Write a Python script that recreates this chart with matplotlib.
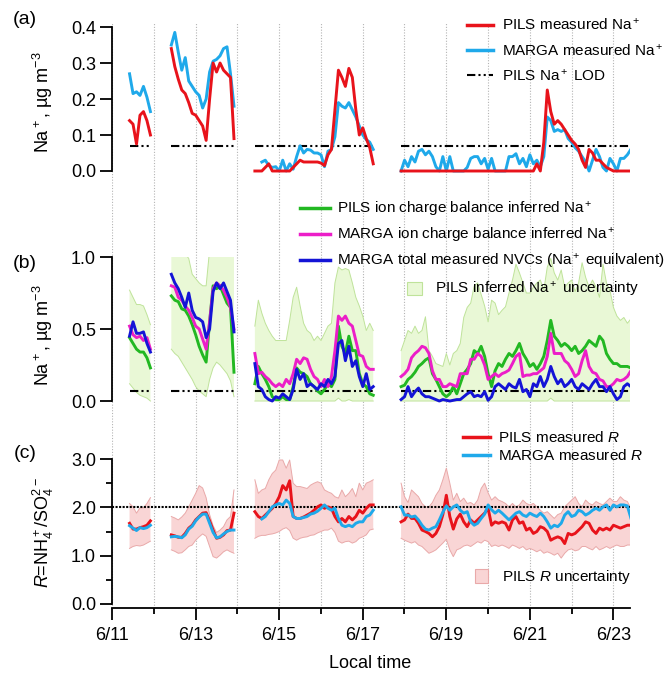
import numpy as np
import matplotlib
matplotlib.use("Agg")
import matplotlib.pyplot as plt
from matplotlib.lines import Line2D
from matplotlib.patches import Patch

plt.rcParams['font.family'] = ['Liberation Sans', 'DejaVu Sans']
plt.rcParams['mathtext.fontset'] = 'custom'
plt.rcParams['mathtext.rm'] = 'Liberation Sans'
plt.rcParams['mathtext.it'] = 'Liberation Sans:italic'
plt.rcParams['mathtext.bf'] = 'Liberation Sans:bold'

# sampling segments (day of June, 2-hourly points)
seg_start = [11.42, 12.42, 14.42, 17.92]
seg_len = [7, 19, 35, 67]
nan = np.nan

# (a) measured Na+
pils_na = ([0.14, 0.13, 0.075, 0.155, 0.165, 0.14, 0.10] +
           [0.34, 0.29, 0.255, 0.225, 0.215, 0.19, 0.16, 0.155, 0.14, 0.125, 0.085, 0.20, 0.30, 0.275, 0.30,
            0.28, 0.27, 0.26, 0.09] +
           [0, 0, 0, 0.01, 0.02, 0, 0, 0, 0, 0, 0, 0.01, 0.02, 0.03, 0.025, 0.025, 0.025, 0.025, 0.025, 0.022,
            0.015, 0.045, 0.06, 0.17, 0.28, 0.26, 0.235, 0.285, 0.26, 0.17, 0.10, 0.12, 0.09, 0.065, 0.02] +
           [0, 0, 0, 0, 0, 0, 0, 0, 0, 0, 0, 0, 0, 0, 0, 0, 0, 0, 0, 0, 0, 0, 0, 0, 0, 0, 0, 0, 0, 0,
            0, 0, 0, 0, 0, 0, 0, 0, 0, 0.02, 0.0, 0.08, 0.225, 0.165, 0.13, 0.14, 0.13, 0.115, 0.10, 0.085,
            0.075, 0.06, 0.03, 0.01, 0.06, 0.05, 0.03, 0.03, 0.02, 0.01, 0.005, 0, 0, 0, 0, 0, 0])
marga_na = ([0.27, 0.215, 0.22, 0.21, 0.235, 0.205, 0.165] +
            [0.35, 0.385, 0.33, 0.28, 0.315, 0.25, 0.235, 0.22, 0.21, 0.175, 0.20, 0.275, 0.305, 0.31, 0.32,
             0.34, 0.345, 0.27, 0.18] +
            [0.08, nan, 0.025, 0.03, 0.015, 0.01, 0.012, 0.0, 0.03, 0.0, 0.02, 0.005, 0.04, 0.07, 0.05, 0.06,
             0.058, 0.05, 0.05, 0.045, 0.012, 0.055, 0.06, 0.095, 0.19, 0.18, 0.175, 0.19, 0.17, 0.15, 0.125,
             0.10, 0.087, 0.08, 0.06] +
            [0.0, 0.03, 0.012, 0.04, 0.025, 0.055, 0.06, 0.045, 0.055, 0.04, 0.012, 0.0, 0.04, 0.0, 0.04, 0.0,
             0.0, 0.0, 0.0, 0.01, 0.035, 0.04, 0.04, 0.02, 0.035, 0.005, 0.035, 0.0, 0.0, 0.0, 0.0, 0.04, 0.04,
             0.048, 0.02, 0.035, 0.012, 0.045, 0.02, 0.03, 0.012, 0.04, 0.15, 0.14, 0.11, 0.115, 0.11, 0.115,
             0.09, 0.08, 0.065, 0.055, 0.04, 0.025, 0.0, 0.03, 0.06, 0.04, 0.01, 0.0, 0.035, 0.02, 0.0, 0.035,
             0.035, 0.045, 0.06])
na_lod = 0.07

# (b) inferred Na+
pils_inf = ([0.44, 0.40, 0.36, 0.34, 0.34, 0.30, 0.23] +
            [0.73, 0.70, 0.69, 0.64, 0.63, 0.59, 0.53, 0.46, 0.38, 0.32, 0.27, 0.55, 0.80, 0.78, 0.80, 0.74,
             0.68, 0.65, 0.20] +
            [0.12, 0.24, 0.19, 0.15, 0.10, 0.03, 0.01, 0.01, 0.03, 0.01, 0.01, 0.10, 0.23, 0.20, 0.19, 0.17,
             0.12, 0.10, 0.07, 0.05, 0.08, 0.12, 0.10, 0.15, 0.52, 0.38, 0.33, 0.45, 0.35, 0.35, 0.19, 0.12,
             0.10, 0.05, 0.04] +
            [0.10, 0.11, 0.15, 0.17, 0.20, 0.24, 0.26, 0.285, 0.30, 0.19, 0.15, 0.10, 0.05, 0.03, 0.05, 0.10,
             0.05, 0.12, 0.19, 0.22, 0.26, 0.35, 0.33, 0.38, 0.31, 0.19, 0.10, 0.21, 0.26, 0.24, 0.29, 0.33,
             0.31, 0.35, 0.40, 0.33, 0.29, 0.24, 0.26, 0.22, 0.26, 0.31, 0.42, 0.56, 0.45, 0.42, 0.38, 0.40,
             0.38, 0.35, 0.38, 0.33, 0.35, 0.38, 0.42, 0.40, 0.38, 0.45, 0.42, 0.33, 0.29, 0.26, 0.26, 0.24,
             0.24, 0.24, 0.23])
marga_inf = ([0.52, 0.46, 0.44, 0.45, 0.42, 0.44, 0.36] +
             [0.80, 0.79, 0.72, 0.70, 0.66, 0.63, 0.58, 0.52, 0.50, 0.43, 0.36, 0.55, 0.78, 0.82, 0.80, 0.77,
              0.72, 0.65, 0.50] +
             [0.33, 0.19, 0.20, 0.17, 0.15, 0.12, 0.10, 0.12, 0.10, 0.15, 0.12, 0.19, 0.29, 0.26, 0.30, 0.29,
              0.22, 0.17, 0.15, 0.10, 0.15, 0.10, 0.17, 0.35, 0.59, 0.56, 0.59, 0.54, 0.52, 0.42, 0.32, 0.31,
              0.24, 0.22, 0.22] +
             [0.17, 0.19, 0.22, 0.30, 0.33, 0.35, 0.38, 0.37, 0.33, 0.21, 0.15, 0.15, 0.10, 0.10, 0.12, 0.11,
              0.10, 0.19, 0.19, 0.19, 0.29, 0.29, 0.33, 0.31, 0.25, 0.15, 0.17, 0.19, 0.17, 0.19, 0.20, 0.215,
              0.26, 0.31, 0.33, 0.17, 0.18, 0.18, 0.19, 0.19, 0.21, 0.23, 0.31, 0.47, 0.33, 0.33, 0.33, 0.28,
              0.26, 0.22, 0.17, 0.19, 0.28, 0.35, 0.24, 0.20, 0.19, 0.15, 0.14, 0.10, 0.10, 0.12, 0.15, 0.14,
              0.15, 0.17, 0.21])
marga_nvc = ([0.45, 0.55, 0.47, 0.47, 0.48, 0.40, 0.34] +
             [0.88, 0.82, 0.78, 0.72, 0.65, 0.75, 0.63, 0.58, 0.57, 0.55, 0.44, 0.50, 0.76, 0.82, 0.78, 0.82,
              0.76, 0.70, 0.48] +
             [0.26, 0.10, 0.08, 0.03, 0.01, 0.0, 0.03, 0.02, 0.05, 0.03, 0.01, 0.08, 0.22, 0.15, 0.19, 0.10,
              0.12, 0.10, 0.08, 0.12, 0.10, 0.15, 0.12, 0.17, 0.40, 0.42, 0.28, 0.38, 0.24, 0.28, 0.17, 0.10,
              0.19, 0.08, 0.10] +
             [0.01, 0.03, 0.10, 0.03, 0.065, 0.09, 0.05, 0.03, 0.03, 0.02, 0.01, 0.0, 0.01, 0.005, 0.0, 0.005,
              0.01, 0.01, 0.03, 0.05, 0.065, 0.03, 0.04, 0.03, 0.065, 0.005, 0.03, 0.10, 0.12, 0.10, 0.08, 0.12,
              0.10, 0.09, 0.15, 0.065, 0.08, 0.03, 0.12, 0.10, 0.17, 0.10, 0.15, 0.24, 0.17, 0.12, 0.15, 0.10,
              0.12, 0.15, 0.10, 0.08, 0.12, 0.10, 0.08, 0.12, 0.15, 0.10, 0.10, 0.065, 0.10, 0.05, 0.01, 0.03,
              0.10, 0.12, 0.10])
pils_inf_hi = ([0.77, 0.72, 0.67, 0.67, 0.66, 0.60, 0.53] +
               [1.05, 1.05, 1.05, 1.05, 1.02, 0.99, 0.88, 0.85, 0.82, 0.80, 0.80, 1.05, 1.05, 1.05, 1.05, 1.05,
                1.05, 1.05, 1.05] +
               [0.52, 0.70, 0.61, 0.54, 0.49, 0.45, 0.42, 0.42, 0.42, 0.42, 0.56, 0.72, 0.79, 0.66, 0.54, 0.49,
                0.47, 0.42, 0.45, 0.42, 0.47, 0.52, 0.54, 0.82, 0.93, 0.91, 0.92, 0.91, 0.82, 0.72, 0.66, 0.59,
                0.49, 0.54, 0.49] +
               [0.35, 0.42, 0.49, 0.47, 0.52, 0.47, 0.49, 0.585, 0.35, 0.31, 0.26, 0.25, 0.24, 0.33, 0.25, 0.33,
                0.35, 0.40, 0.58, 0.65, 0.68, 0.80, 0.82, 0.74, 0.66, 0.55, 0.70, 0.68, 0.60, 0.63, 0.655, 0.75,
                0.84, 0.95, 0.89, 0.82, 0.75, 0.75, 0.79, 0.82, 0.84, 0.77, 0.93, 0.99, 0.89, 0.84, 0.91, 0.79,
                0.82, 0.84, 0.76, 0.82, 0.96, 0.86, 0.79, 0.84, 0.79, 0.72, 0.95, 0.82, 0.77, 0.65, 0.59, 0.56,
                0.58, 0.54, 0.57])
pils_inf_lo = ([0.12, 0.09, 0.06, 0.04, 0.03, 0.02, 0.0] +
               [0.36, 0.33, 0.31, 0.27, 0.23, 0.19, 0.15, 0.10, 0.07, 0.05, 0.03, 0.15, 0.23, 0.27, 0.25, 0.22,
                0.19, 0.14, 0.03] +
               [0.0, 0.0, 0.0, 0.0, 0.0, 0.0, 0.0, 0.0, 0.0, 0.0, 0.0, 0.0, 0.0, 0.0, 0.0, 0.0, 0.0, 0.0,
                0.0, 0.0, 0.0, 0.0, 0.0, 0.0, 0.02, 0.0, 0.0, 0.01, 0.0, 0.0, 0.0, 0.0, 0.0, 0.0, 0.0] +
               [0.0, 0.0, 0.0, 0.0, 0.0, 0.0, 0.0, 0.0, 0.0, 0.0, 0.0, 0.0, 0.0, 0.0, 0.0, 0.0, 0.0, 0.0,
                0.0, 0.0, 0.0, 0.0, 0.0, 0.0, 0.0, 0.0, 0.0, 0.0, 0.0, 0.0, 0.0, 0.0, 0.0, 0.0, 0.0, 0.0,
                0.0, 0.0, 0.0, 0.0, 0.0, 0.0, 0.0, 0.02, 0.0, 0.0, 0.0, 0.0, 0.0, 0.0, 0.0, 0.0, 0.0, 0.0,
                0.0, 0.0, 0.0, 0.0, 0.0, 0.0, 0.0, 0.0, 0.0, 0.0, 0.0, 0.0, 0.0])

# (c) R = NH4+/SO4 2-
pils_r = ([1.67, 1.55, 1.55, 1.58, 1.60, 1.63, 1.72] +
          [1.43, 1.41, 1.38, 1.38, 1.46, 1.57, 1.63, 1.74, 1.81, 1.88, 1.89, 1.72, 1.53, 1.36, 1.38, 1.43,
           1.52, 1.53, 1.88] +
          [1.91, 1.81, 1.77, 1.84, 1.91, 1.98, 2.08, 2.22, 2.45, 2.36, 2.55, 1.81, 1.77, 1.77, 1.80, 1.84,
           1.88, 1.94, 2.01, 2.05, 1.98, 2.01, 1.98, 1.81, 1.70, 1.77, 1.70, 1.81, 1.74, 1.81, 1.94, 1.88,
           1.98, 2.05, 2.05] +
          [1.70, 1.74, 1.86, 1.77, 1.77, 1.67, 1.53, 1.50, 1.46, 1.39, 1.46, 1.60, 1.85, 2.25, 1.81, 1.55,
           1.76, 1.86, 1.70, 1.60, 1.74, 1.67, 1.74, 1.81, 1.88, 1.98, 1.63, 1.70, 1.67, 1.70, 1.67, 1.53,
           1.74, 1.81, 1.67, 1.70, 1.53, 1.57, 1.46, 1.50, 1.60, 1.57, 1.50, 1.32, 1.36, 1.39, 1.36, 1.25,
           1.46, 1.43, 1.46, 1.53, 1.60, 1.70, 1.67, 1.53, 1.46, 1.57, 1.53, 1.57, 1.53, 1.63, 1.60, 1.57,
           1.60, 1.63, 1.63])
marga_r = ([1.62, 1.57, 1.52, 1.58, 1.56, 1.58, 1.63] +
           [1.39, 1.40, 1.39, 1.37, 1.43, 1.55, 1.61, 1.72, 1.80, 1.86, 1.86, 1.67, 1.48, 1.37, 1.39, 1.45,
            1.50, 1.53, 1.53] +
           [nan, nan, 1.76, 1.81, 1.91, 2.01, 2.05, 2.08, 2.05, 2.15, 2.08, 1.81, 1.77, 1.77, 1.79, 1.81,
            1.86, 1.88, 1.92, 1.98, 2.05, 1.98, 1.94, 1.98, 1.77, 1.63, 1.60, 1.63, 1.60, 1.67, 1.70, 1.70,
            1.81, 1.84, 1.94] +
           [2.01, 1.84, 1.84, 1.80, 1.82, 1.74, 1.63, 1.55, 1.53, 1.57, 1.60, 1.74, 1.90, 2.03, 1.94, 2.01,
            2.05, 1.94, 1.88, 1.91, 1.70, 1.63, 1.67, 1.77, 1.86, 2.05, 1.95, 1.88, 1.94, 1.88, 1.81, 1.74,
            1.81, 1.88, 1.91, 1.84, 1.81, 1.88, 1.84, 1.81, 1.88, 1.81, 1.70, 1.57, 1.63, 1.60, 1.67, 1.84,
            1.91, 1.81, 1.84, 1.94, 1.91, 1.84, 1.88, 1.94, 1.98, 1.94, 2.01, 2.05, 1.94, 2.05, 2.01, 2.05,
            2.05, 2.03, 1.78])
pils_r_hi = ([2.08, 2.01, 1.88, 1.99, 1.99, 2.08, 2.20] +
             [1.81, 1.78, 1.74, 1.80, 1.88, 2.01, 2.15, 2.29, 2.45, 2.40, 2.20, 1.85, 1.62, 1.48, 1.53, 1.60,
              1.74, 1.81, 2.36] +
             [2.57, 2.29, 2.36, 2.39, 2.57, 2.70, 2.77, 2.98, 2.98, 2.81, 2.98, 2.50, 2.43, 2.43, 2.41, 2.39,
              2.46, 2.50, 2.53, 2.50, 2.36, 2.32, 2.29, 2.22, 2.19, 2.36, 2.22, 2.29, 2.39, 2.22, 2.50, 2.36,
              2.50, 2.53, 2.57] +
             [2.50, 2.22, 2.10, 2.36, 2.29, 2.22, 2.08, 2.01, 2.01, 2.10, 2.25, 2.36, 2.57, 2.81, 2.50, 2.15,
              2.29, 2.12, 2.19, 2.08, 2.10, 2.05, 2.15, 2.39, 2.50, 2.30, 2.15, 2.22, 2.15, 2.12, 2.08, 2.01,
              2.08, 2.01, 2.05, 2.15, 2.08, 2.05, 2.08, 2.01, 1.94, 1.88, 1.91, 1.84, 1.77, 1.85, 1.88, 2.01,
              2.08, 2.15, 2.22, 2.08, 2.01, 2.15, 2.08, 2.05, 2.12, 2.08, 2.05, 2.12, 2.19, 2.12, 2.12, 2.22,
              2.15, 2.12, 1.98])
pils_r_lo = ([1.15, 1.19, 1.21, 1.20, 1.22, 1.26, 1.30] +
             [1.12, 1.09, 1.05, 1.06, 1.12, 1.19, 1.22, 1.32, 1.39, 1.45, 1.40, 1.19, 0.98, 0.95, 1.01, 1.08,
              1.12, 1.08, 1.05] +
             [1.36, 1.40, 1.42, 1.42, 1.44, 1.45, 1.47, 1.50, 1.55, 1.58, 1.52, 1.36, 1.32, 1.36, 1.38, 1.39,
              1.42, 1.43, 1.47, 1.50, 1.53, 1.53, 1.57, 1.48, 1.30, 1.26, 1.29, 1.30, 1.26, 1.29, 1.36, 1.39,
              1.43, 1.53, 1.55] +
             [1.36, 1.32, 1.29, 1.26, 1.29, 1.22, 1.19, 1.12, 1.05, 1.08, 1.12, 1.19, 1.26, 1.34, 1.12, 0.98,
              1.12, 1.15, 1.20, 1.22, 1.19, 1.24, 1.29, 1.26, 1.32, 1.29, 1.19, 1.22, 1.19, 1.22, 1.19, 1.15,
              1.22, 1.19, 1.15, 1.19, 1.12, 1.15, 1.12, 1.08, 1.12, 1.05, 1.08, 1.05, 1.01, 1.05, 0.95, 1.05,
              1.12, 1.14, 1.10, 1.12, 1.19, 1.19, 1.15, 1.12, 1.19, 1.12, 1.15, 1.19, 1.15, 1.19, 1.22, 1.19,
              1.19, 1.22, 1.22])
r_neutral = 2.0

# axis ticks
day_major = [11, 13, 15, 17, 19, 21, 23]
day_labels = ['6/11', '6/13', '6/15', '6/17', '6/19', '6/21', '6/23']
day_minor = [12, 14, 16, 18, 20, 22]
day_grid = [11, 12, 13, 14, 15, 16, 17, 18, 19, 20, 21, 22, 23]
ya_ticks = [0.0, 0.1, 0.2, 0.3, 0.4]
ya_labels = ['0.0', '0.1', '0.2', '0.3', '0.4']
yb_ticks = [0.0, 0.5, 1.0]
yb_labels = ['0.0', '0.5', '1.0']
yc_ticks = [0.0, 1.0, 2.0, 3.0]
yc_labels = ['0.0', '1.0', '2.0', '3.0']
yc_minor = [0.5, 1.5, 2.5]

RED = '#e8131b'
SKY = '#1fa9ea'
GREEN = '#22b822'
MAGENTA = '#ec1ec8'
NAVY = '#1414d6'
LOD_DASH = (0, (4, 1.5, 1, 1.5, 1, 1.5))

W, H = 670, 677
def fx(px):
    return px / W
def fy(py):
    return 1 - py / H


def segments(values):
    values = np.asarray(values, dtype=float)
    out, i = [], 0
    for s, n in zip(seg_start, seg_len):
        out.append((s + np.arange(n) / 12.0, values[i:i + n]))
        i += n
    return out


def line(ax, values, color, z=3):
    for t, v in segments(values):
        ax.plot(t, v, color=color, lw=2.1, zorder=z, solid_joinstyle='round')


def band(ax, lo, hi, face, edge):
    for (t, a), (_, b) in zip(segments(lo), segments(hi)):
        ax.fill_between(t, a, b, facecolor=face, edgecolor='none', zorder=1)
        ax.plot(t, a, color=edge, lw=0.7, zorder=1.5)
        ax.plot(t, b, color=edge, lw=0.7, zorder=1.5)


def lod_line(ax):
    for t, _ in segments(pils_na):
        ax.plot([t[0], t[-1]], [na_lod, na_lod], color='black', lw=1.5,
                linestyle=LOD_DASH, zorder=2)


fig = plt.figure(figsize=(W / 100, H / 100), dpi=100)
x0, x1 = 112, 630
xlim = (11, 23.4)

# background grid across all panels
ax_bg = fig.add_axes([fx(x0), fy(608), fx(x1) - fx(x0), fy(22) - fy(608)])
ax_bg.set_xlim(xlim)
ax_bg.set_ylim(0, 1)
ax_bg.vlines(day_grid, 0, 1, colors='#b4b4b4', linestyles=(0, (1, 1.5)), lw=0.8)
ax_bg.axis('off')

ax_a = fig.add_axes([fx(x0), fy(174.6), fx(x1) - fx(x0), fy(23.4) - fy(174.6)])
ax_b = fig.add_axes([fx(x0), fy(403.9), fx(x1) - fx(x0), fy(257) - fy(403.9)])
ax_c = fig.add_axes([fx(x0), fy(608), fx(x1) - fx(x0), fy(456.6) - fy(608)])

for ax in (ax_a, ax_b, ax_c):
    ax.patch.set_visible(False)
    ax.set_xlim(xlim)
    for s in ('top', 'right'):
        ax.spines[s].set_visible(False)
    ax.spines['left'].set_linewidth(1.3)
    ax.tick_params(axis='y', direction='out', length=8.5, width=1.3, labelsize=13, pad=3)

for ax in (ax_a, ax_b):
    ax.spines['bottom'].set_visible(False)
    ax.tick_params(axis='x', which='both', bottom=False, labelbottom=False)

# (a)
line(ax_a, marga_na, SKY)
line(ax_a, pils_na, RED, z=4)
lod_line(ax_a)
ax_a.set_ylim(-0.01, 0.41)
ax_a.spines['left'].set_bounds(0, 0.4)
ax_a.set_yticks(ya_ticks)
ax_a.set_yticklabels(ya_labels)

# (b)
band(ax_b, pils_inf_lo, pils_inf_hi, '#e9f8d6', '#bfe39a')
lod_line(ax_b)
line(ax_b, pils_inf, GREEN)
line(ax_b, marga_inf, MAGENTA)
line(ax_b, marga_nvc, NAVY)
ax_b.set_ylim(-0.02, 1.0)
ax_b.spines['left'].set_bounds(0, 1.0)
ax_b.set_yticks(yb_ticks)
ax_b.set_yticklabels(yb_labels)

# (c)
band(ax_c, pils_r_lo, pils_r_hi, '#f9d5d5', '#e9a9a9')
ax_c.axhline(r_neutral, color='black', lw=1.5, linestyle=(0, (1, 0.7)), zorder=2)
line(ax_c, pils_r, RED)
line(ax_c, marga_r, SKY, z=4)
ax_c.set_ylim(-0.083, 3.05)
ax_c.spines['left'].set_bounds(0, 3.0)
ax_c.spines['bottom'].set_linewidth(1.3)
ax_c.set_yticks(yc_ticks)
ax_c.set_yticklabels(yc_labels)
ax_c.set_yticks(yc_minor, minor=True)
ax_c.tick_params(axis='y', which='minor', direction='out', length=4.5, width=1.3)
ax_c.set_xticks(day_major)
ax_c.set_xticklabels(day_labels)
ax_c.set_xticks(day_minor, minor=True)
ax_c.tick_params(axis='x', which='major', direction='out', length=8.5, width=1.3, labelsize=13, pad=5)
ax_c.tick_params(axis='x', which='minor', direction='out', length=4, width=1.3)

# labels
fig.text(fx(25), fy(19), '(a)', fontsize=14, ha='center', va='center')
fig.text(fx(25), fy(263), '(b)', fontsize=14, ha='center', va='center')
fig.text(fx(25), fy(453), '(c)', fontsize=14, ha='center', va='center')
na_unit = 'Na$^+$, µg m$^{-3}$'
fig.text(fx(43), fy(102), na_unit, fontsize=13, rotation=90, ha='center', va='center')
fig.text(fx(43), fy(335), na_unit, fontsize=13, rotation=90, ha='center', va='center')
fig.text(fx(43), fy(533), '$R$=NH$_4^+$/SO$_4^{2-}$', fontsize=13, rotation=90,
         ha='center', va='center')
fig.text(fx(370), fy(664), 'Local time', fontsize=13, ha='center', va='center')

# legends
leg_kw = dict(loc='upper left', frameon=False, fontsize=11, borderpad=0, borderaxespad=0)
fig.legend(handles=[Line2D([], [], color=RED, lw=2.5),
                    Line2D([], [], color=SKY, lw=2.5),
                    Line2D([], [], color='black', lw=1.5, linestyle=LOD_DASH)],
           labels=['PILS measured Na$^+$', 'MARGA measured Na$^+$', 'PILS Na$^+$ LOD'],
           bbox_to_anchor=(fx(467), fy(17)), handlelength=1.7, handletextpad=0.6,
           labelspacing=0.6, **leg_kw)
fig.legend(handles=[Line2D([], [], color=GREEN, lw=2.5),
                    Line2D([], [], color=MAGENTA, lw=2.5),
                    Line2D([], [], color=NAVY, lw=2.5)],
           labels=['PILS ion charge balance inferred Na$^+$',
                   'MARGA ion charge balance inferred Na$^+$',
                   'MARGA total measured NVCs (Na$^+$ equilvalent)'],
           bbox_to_anchor=(fx(300), fy(200)), handlelength=1.96, handletextpad=0.45,
           labelspacing=0.45, **leg_kw)
fig.legend(handles=[Patch(facecolor='#e9f8d6', edgecolor='#bfe39a', lw=0.8)],
           labels=['PILS inferred Na$^+$ uncertainty'],
           bbox_to_anchor=(fx(407), fy(280)), handlelength=1.0, handleheight=1.0,
           handletextpad=0.85, **leg_kw)
fig.legend(handles=[Line2D([], [], color=RED, lw=2.5),
                    Line2D([], [], color=SKY, lw=2.5)],
           labels=['PILS measured $R$', 'MARGA measured $R$'],
           bbox_to_anchor=(fx(463), fy(430)), handlelength=1.76, handletextpad=0.52,
           labelspacing=0.2, **leg_kw)
fig.legend(handles=[Patch(facecolor='#f9d5d5', edgecolor='#e9a9a9', lw=0.8)],
           labels=['PILS $R$ uncertainty'],
           bbox_to_anchor=(fx(475), fy(568)), handlelength=0.85, handleheight=1.0,
           handletextpad=0.9, **leg_kw)

fig.savefig('out.png', dpi=100)
